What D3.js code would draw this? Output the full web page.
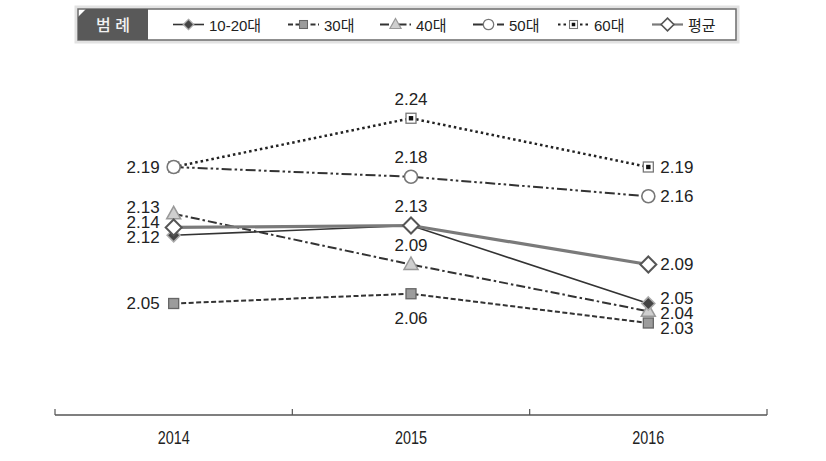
<!DOCTYPE html>
<html>
<head>
<meta charset="utf-8">
<script src="https://cdn.jsdelivr.net/npm/d3@7"></script>
<style>
  html, body { margin: 0; padding: 0; background: #fff; }
  svg { display: block; }
  text { font-family: "Liberation Sans", Arial, "Noto Sans CJK KR", sans-serif; }
</style>
</head>
<body>
<svg id="chart" width="826" height="461"></svg>
<script>
// ---------------- data ----------------
const years = ["2014", "2015", "2016"];
const seriesNames = ["10-20대", "30대", "40대", "50대", "60대", "평균"];
const values1020 = [2.12, 2.13, 2.05];
const values30   = [2.05, 2.06, 2.03];
const values40   = [2.142, 2.09, 2.042];
const values50   = [2.19, 2.18, 2.16];
const values60   = [2.19, 2.24, 2.19];
const valuesAvg  = [2.128, 2.13, 2.09];
// printed data labels
const labels1020 = ["2.12", "2.13", "2.05"];
const labels30   = ["2.05", "2.06", "2.03"];
const labels40   = ["2.13", "2.09", "2.04"];
const labels50   = ["2.19", "2.18", "2.16"];
const labels60   = ["2.19", "2.24", "2.19"];
const labelsAvg  = ["2.14", "2.13", "2.09"];
const legendTitle = "범 례";

// ---------------- styles ----------------
const styles = {
  "10-20대": { stroke: "#333", width: 1.6, dash: null, marker: "diamondDark", midLabelBelow: false },
  "30대":    { stroke: "#333", width: 2,   dash: "5,2.5", marker: "squareGray", midLabelBelow: true },
  "40대":    { stroke: "#333", width: 2,   dash: "9,3,2.5,3", marker: "triangle", midLabelBelow: false },
  "50대":    { stroke: "#333", width: 2,   dash: "10,3,2.5,3,2.5,3", marker: "circle", midLabelBelow: false },
  "60대":    { stroke: "#222", width: 2.5, dash: "2.5,3", marker: "squareDot", midLabelBelow: false },
  "평균":    { stroke: "#7a7a7a", width: 3.2, dash: null, marker: "diamondWhite", midLabelBelow: false }
};

const seriesValues = [values1020, values30, values40, values50, values60, valuesAvg];
const seriesLabels = [labels1020, labels30, labels40, labels50, labels60, labelsAvg];
const series = seriesNames.map((name, i) => ({
  name, style: styles[name],
  points: years.map((y, j) => ({ year: y, value: seriesValues[i][j], label: seriesLabels[i][j] }))
}));

// ---------------- scales ----------------
const svg = d3.select("#chart");
const x = d3.scaleBand().domain(years).range([55, 767]).padding(0);
const cx = y => x(y) + x.bandwidth() / 2;
const yScale = d3.scaleLinear().domain([2.0, 2.3]).range([352.25, 59.75]);

// ---------------- markers ----------------
function drawMarker(g, type, px, py, s = 1) {
  const m = g.append("g").attr("transform", `translate(${px},${py}) scale(${s})`);
  if (type === "diamondDark") {
    m.append("path").attr("d", "M0,-6.5L6.5,0L0,6.5L-6.5,0Z")
      .attr("fill", "#444").attr("stroke", "#aaa").attr("stroke-width", 1.6);
  } else if (type === "diamondWhite") {
    m.append("path").attr("d", "M0,-8L8,0L0,8L-8,0Z")
      .attr("fill", "#fff").attr("stroke", "#555").attr("stroke-width", 2);
  } else if (type === "squareGray") {
    m.append("rect").attr("x", -5).attr("y", -5).attr("width", 10).attr("height", 10)
      .attr("fill", "#9c9c9c").attr("stroke", "#666").attr("stroke-width", 1.3);
  } else if (type === "triangle") {
    m.append("path").attr("d", "M0,-7.5L7,5L-7,5Z")
      .attr("fill", "#cfcfcf").attr("stroke", "#999").attr("stroke-width", 1.5);
  } else if (type === "circle") {
    m.append("circle").attr("r", 6.5)
      .attr("fill", "#fff").attr("stroke", "#777").attr("stroke-width", 1.6);
  } else if (type === "squareDot") {
    m.append("rect").attr("x", -5).attr("y", -5).attr("width", 10).attr("height", 10)
      .attr("fill", "#fff").attr("stroke", "#777").attr("stroke-width", 1.3);
    m.append("rect").attr("x", -2.2).attr("y", -2.2).attr("width", 4.4).attr("height", 4.4)
      .attr("fill", "#111");
  }
}

// ---------------- lines ----------------
const line = d3.line().x(d => cx(d.year)).y(d => yScale(d.value));
const drawOrder = ["60대", "50대", "40대", "30대", "10-20대", "평균"];
drawOrder.forEach(name => {
  const s = series.find(d => d.name === name);
  svg.append("path").datum(s.points)
    .attr("d", line).attr("fill", "none")
    .attr("stroke", s.style.stroke).attr("stroke-width", s.style.width)
    .attr("stroke-dasharray", s.style.dash);
});
["60대", "50대", "30대", "40대", "10-20대", "평균"].forEach(name => {
  const s = series.find(d => d.name === name);
  s.points.forEach(p => drawMarker(svg, s.style.marker, cx(p.year), yScale(p.value)));
});

// ---------------- data labels ----------------
const labelFont = 17;
function sideLabels(yearIdx, anchor, dx, spacing, shift) {
  const seen = new Set();
  let items = [];
  series.forEach(s => {
    const p = s.points[yearIdx];
    const key = p.label;
    if (seen.has(key)) return;
    seen.add(key);
    items.push({ text: p.label, py: yScale(p.value), px: cx(p.year) });
  });
  items.sort((a, b) => a.py - b.py);
  // group overlapping labels and spread them around group mean
  const groups = [];
  items.forEach(it => {
    const g = groups[groups.length - 1];
    if (g && it.py - g[g.length - 1].py < spacing) g.push(it); else groups.push([it]);
  });
  groups.forEach(g => {
    const mean = d3.mean(g, d => d.py) + (g.length > 1 ? shift : 0);
    g.forEach((it, i) => { it.ly = mean + (i - (g.length - 1) / 2) * spacing; });
  });
  items.forEach(it => {
    svg.append("text").attr("x", it.px + dx).attr("y", it.ly)
      .attr("text-anchor", anchor).attr("dominant-baseline", "central")
      .attr("font-size", labelFont).attr("fill", "#222").text(it.text);
  });
}
sideLabels(0, "end", -14, 15, -3);
sideLabels(2, "start", 12, 15, 1);

// middle labels
(function () {
  const seen = new Set();
  series.forEach(s => {
    const p = s.points[1];
    if (seen.has(p.label)) return;
    seen.add(p.label);
    const below = s.style.midLabelBelow;
    svg.append("text").attr("x", cx(p.year))
      .attr("y", yScale(p.value) + (below ? 25 : -19))
      .attr("text-anchor", "middle").attr("dominant-baseline", "central")
      .attr("font-size", labelFont).attr("fill", "#222").text(p.label);
  });
})();

// ---------------- x axis ----------------
const axisY = 415;
const [r0, r1] = x.range();
svg.append("line").attr("x1", r0).attr("x2", r1).attr("y1", axisY).attr("y2", axisY)
  .attr("stroke", "#555").attr("stroke-width", 1.6);
const tickPos = years.map(y => x(y)).concat([r1]);
tickPos.forEach(t => {
  svg.append("line").attr("x1", t).attr("x2", t).attr("y1", axisY - 6).attr("y2", axisY)
    .attr("stroke", "#555").attr("stroke-width", 1.2);
});
years.forEach(y => {
  svg.append("text").attr("transform", `translate(${cx(y)},437) scale(0.8,1)`)
    .attr("text-anchor", "middle").attr("dominant-baseline", "central")
    .attr("font-size", 18).attr("fill", "#222").text(y);
});

// ---------------- legend ----------------
const lg = svg.append("g");
const L = { x0: 78, x1: 736, y0: 9, y1: 40, cellW: 70 };
lg.append("rect").attr("x", L.x0 - 2).attr("y", L.y0 - 2)
  .attr("width", L.x1 - L.x0 + 4).attr("height", L.y1 - L.y0 + 4)
  .attr("fill", "none").attr("stroke", "#e2e2e2").attr("stroke-width", 3);
lg.append("rect").attr("x", L.x0).attr("y", L.y0)
  .attr("width", L.x1 - L.x0).attr("height", L.y1 - L.y0)
  .attr("fill", "#fff").attr("stroke", "#6a6a6a").attr("stroke-width", 1.5);
lg.append("path")
  .attr("d", `M${L.x0 + 8},${L.y0}L${L.x0 + L.cellW},${L.y0}L${L.x0 + L.cellW},${L.y1}L${L.x0},${L.y1}L${L.x0},${L.y0 + 8}Z`)
  .attr("fill", "#595959");
lg.append("text").attr("x", L.x0 + L.cellW / 2).attr("y", (L.y0 + L.y1) / 2 + 1)
  .attr("text-anchor", "middle").attr("dominant-baseline", "central")
  .attr("font-size", 16).attr("font-weight", "500").attr("fill", "#f2f2f2")
  .attr("font-family", "'Noto Sans CJK KR', sans-serif").text(legendTitle);

const legendStarts = [173, 288, 380, 473, 558, 652];
series.forEach((s, i) => {
  const sx = legendStarts[i];
  const ly = (L.y0 + L.y1) / 2;
  const sw = 31;
  lg.append("line").attr("x1", sx).attr("x2", sx + sw).attr("y1", ly).attr("y2", ly)
    .attr("stroke", s.style.stroke).attr("stroke-width", Math.min(s.style.width, 2.2))
    .attr("stroke-dasharray", s.style.dash);
  drawMarker(lg, s.style.marker, sx + sw / 2, ly, 0.8);
  lg.append("text").attr("x", sx + sw + 5).attr("y", ly + 1)
    .attr("dominant-baseline", "central").attr("font-size", 15).attr("fill", "#222")
    .text(s.name);
});
</script>
</body>
</html>
